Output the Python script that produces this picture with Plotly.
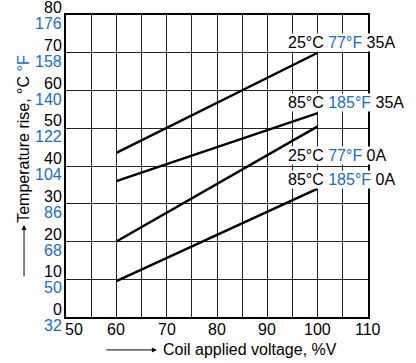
import plotly.graph_objects as go

# Data
voltage = [60, 100]
series_names = ["25°C 77°F 35A", "85°C 185°F 35A", "25°C 77°F 0A", "85°C 185°F 0A"]
temp_25C_35A = [43.5, 70.0]
temp_85C_35A = [36.0, 54.0]
temp_25C_0A = [20.0, 50.5]
temp_85C_0A = [9.5, 34.0]
series_values = [temp_25C_35A, temp_85C_35A, temp_25C_0A, temp_85C_0A]

# label parts: (celsius, fahrenheit, current) and label positions
label_c = ["25°C", "85°C", "25°C", "85°C"]
label_f = ["77°F", "185°F", "77°F", "185°F"]
label_a = ["35A", "35A", "0A", "0A"]
label_y = [72.7, 56.8, 42.9, 36.5]
label_x = 94

x_ticks = [50, 60, 70, 80, 90, 100, 110]
y_ticks_c = [0, 10, 20, 30, 40, 50, 60, 70, 80]
y_ticks_f = [32, 50, 68, 86, 104, 122, 140, 158, 176]

BLUE = "#1a6dc0"
FONT = "Liberation Sans, Arial, sans-serif"

fig = go.Figure()
for name, vals in zip(series_names, series_values):
    fig.add_trace(go.Scatter(x=voltage, y=vals, mode="lines", name=name,
                             line=dict(color="black", width=2.5), showlegend=False))

ann = []
for c, f, a, y in zip(label_c, label_f, label_a, label_y):
    ann.append(dict(x=label_x, y=y, xref="x", yref="y", xanchor="left", yanchor="middle",
                    text=f"{c} <span style='color:{BLUE}'>{f}</span> {a}",
                    showarrow=False, bgcolor="white", borderpad=0,
                    font=dict(size=16, color="black", family=FONT)))

for c, f in zip(y_ticks_c, y_ticks_f):
    ann.append(dict(x=0, y=c, xref="paper", yref="y", xanchor="right", yanchor="bottom",
                    xshift=-3, yshift=-2, text=str(c), showarrow=False, borderpad=0,
                    font=dict(size=16, color="black", family=FONT)))
    ann.append(dict(x=0, y=c, xref="paper", yref="y", xanchor="right", yanchor="top",
                    xshift=-3, yshift=1, text=str(f), showarrow=False, borderpad=0,
                    font=dict(size=16, color=BLUE, family=FONT)))

for i, t in enumerate(x_ticks):
    ann.append(dict(x=t, y=0, xref="x", yref="paper", xanchor="center", yanchor="top",
                    xshift=8 if i == 0 else 0, yshift=-3, text=str(t), showarrow=False,
                    borderpad=0, font=dict(size=16, color="black", family=FONT)))

# x axis title with arrow
ann.append(dict(x=0.318, y=-0.109, xref="paper", yref="paper", xanchor="left", yanchor="middle",
                text="Coil applied voltage, %V", showarrow=False, borderpad=0,
                font=dict(size=16, color="black", family=FONT)))
ann.append(dict(x=0.301, y=-0.109, xref="paper", yref="paper", text="", showarrow=True,
                ax=-52, ay=0, arrowhead=2, arrowsize=1, arrowwidth=1, arrowcolor="black"))
# y axis title with arrow
ann.append(dict(x=-0.139, y=0.59, xref="paper", yref="paper", xanchor="center", yanchor="middle",
                textangle=-90, text=f"Temperature rise, °C <span style='color:{BLUE}'>°F</span>",
                showarrow=False, borderpad=0, font=dict(size=16, color="black", family=FONT)))
ann.append(dict(x=-0.139, y=0.305, xref="paper", yref="paper", text="", showarrow=True,
                ax=0, ay=53, arrowhead=2, arrowsize=1, arrowwidth=1, arrowcolor="black"))

fig.update_layout(
    width=416, height=363,
    margin=dict(l=66, r=48, t=15, b=46),
    paper_bgcolor="white", plot_bgcolor="white",
    annotations=ann,
    xaxis=dict(range=[50, 110], dtick=5, tick0=50, showticklabels=False, ticks="",
               showgrid=True, gridcolor="#222", gridwidth=1, zeroline=False,
               showline=True, linecolor="black", linewidth=2, mirror=True),
    yaxis=dict(range=[0, 80], dtick=10, tick0=0, showticklabels=False, ticks="",
               showgrid=True, gridcolor="#222", gridwidth=1, zeroline=False,
               showline=True, linecolor="black", linewidth=2, mirror=True),
)

fig.write_html("out.html")
